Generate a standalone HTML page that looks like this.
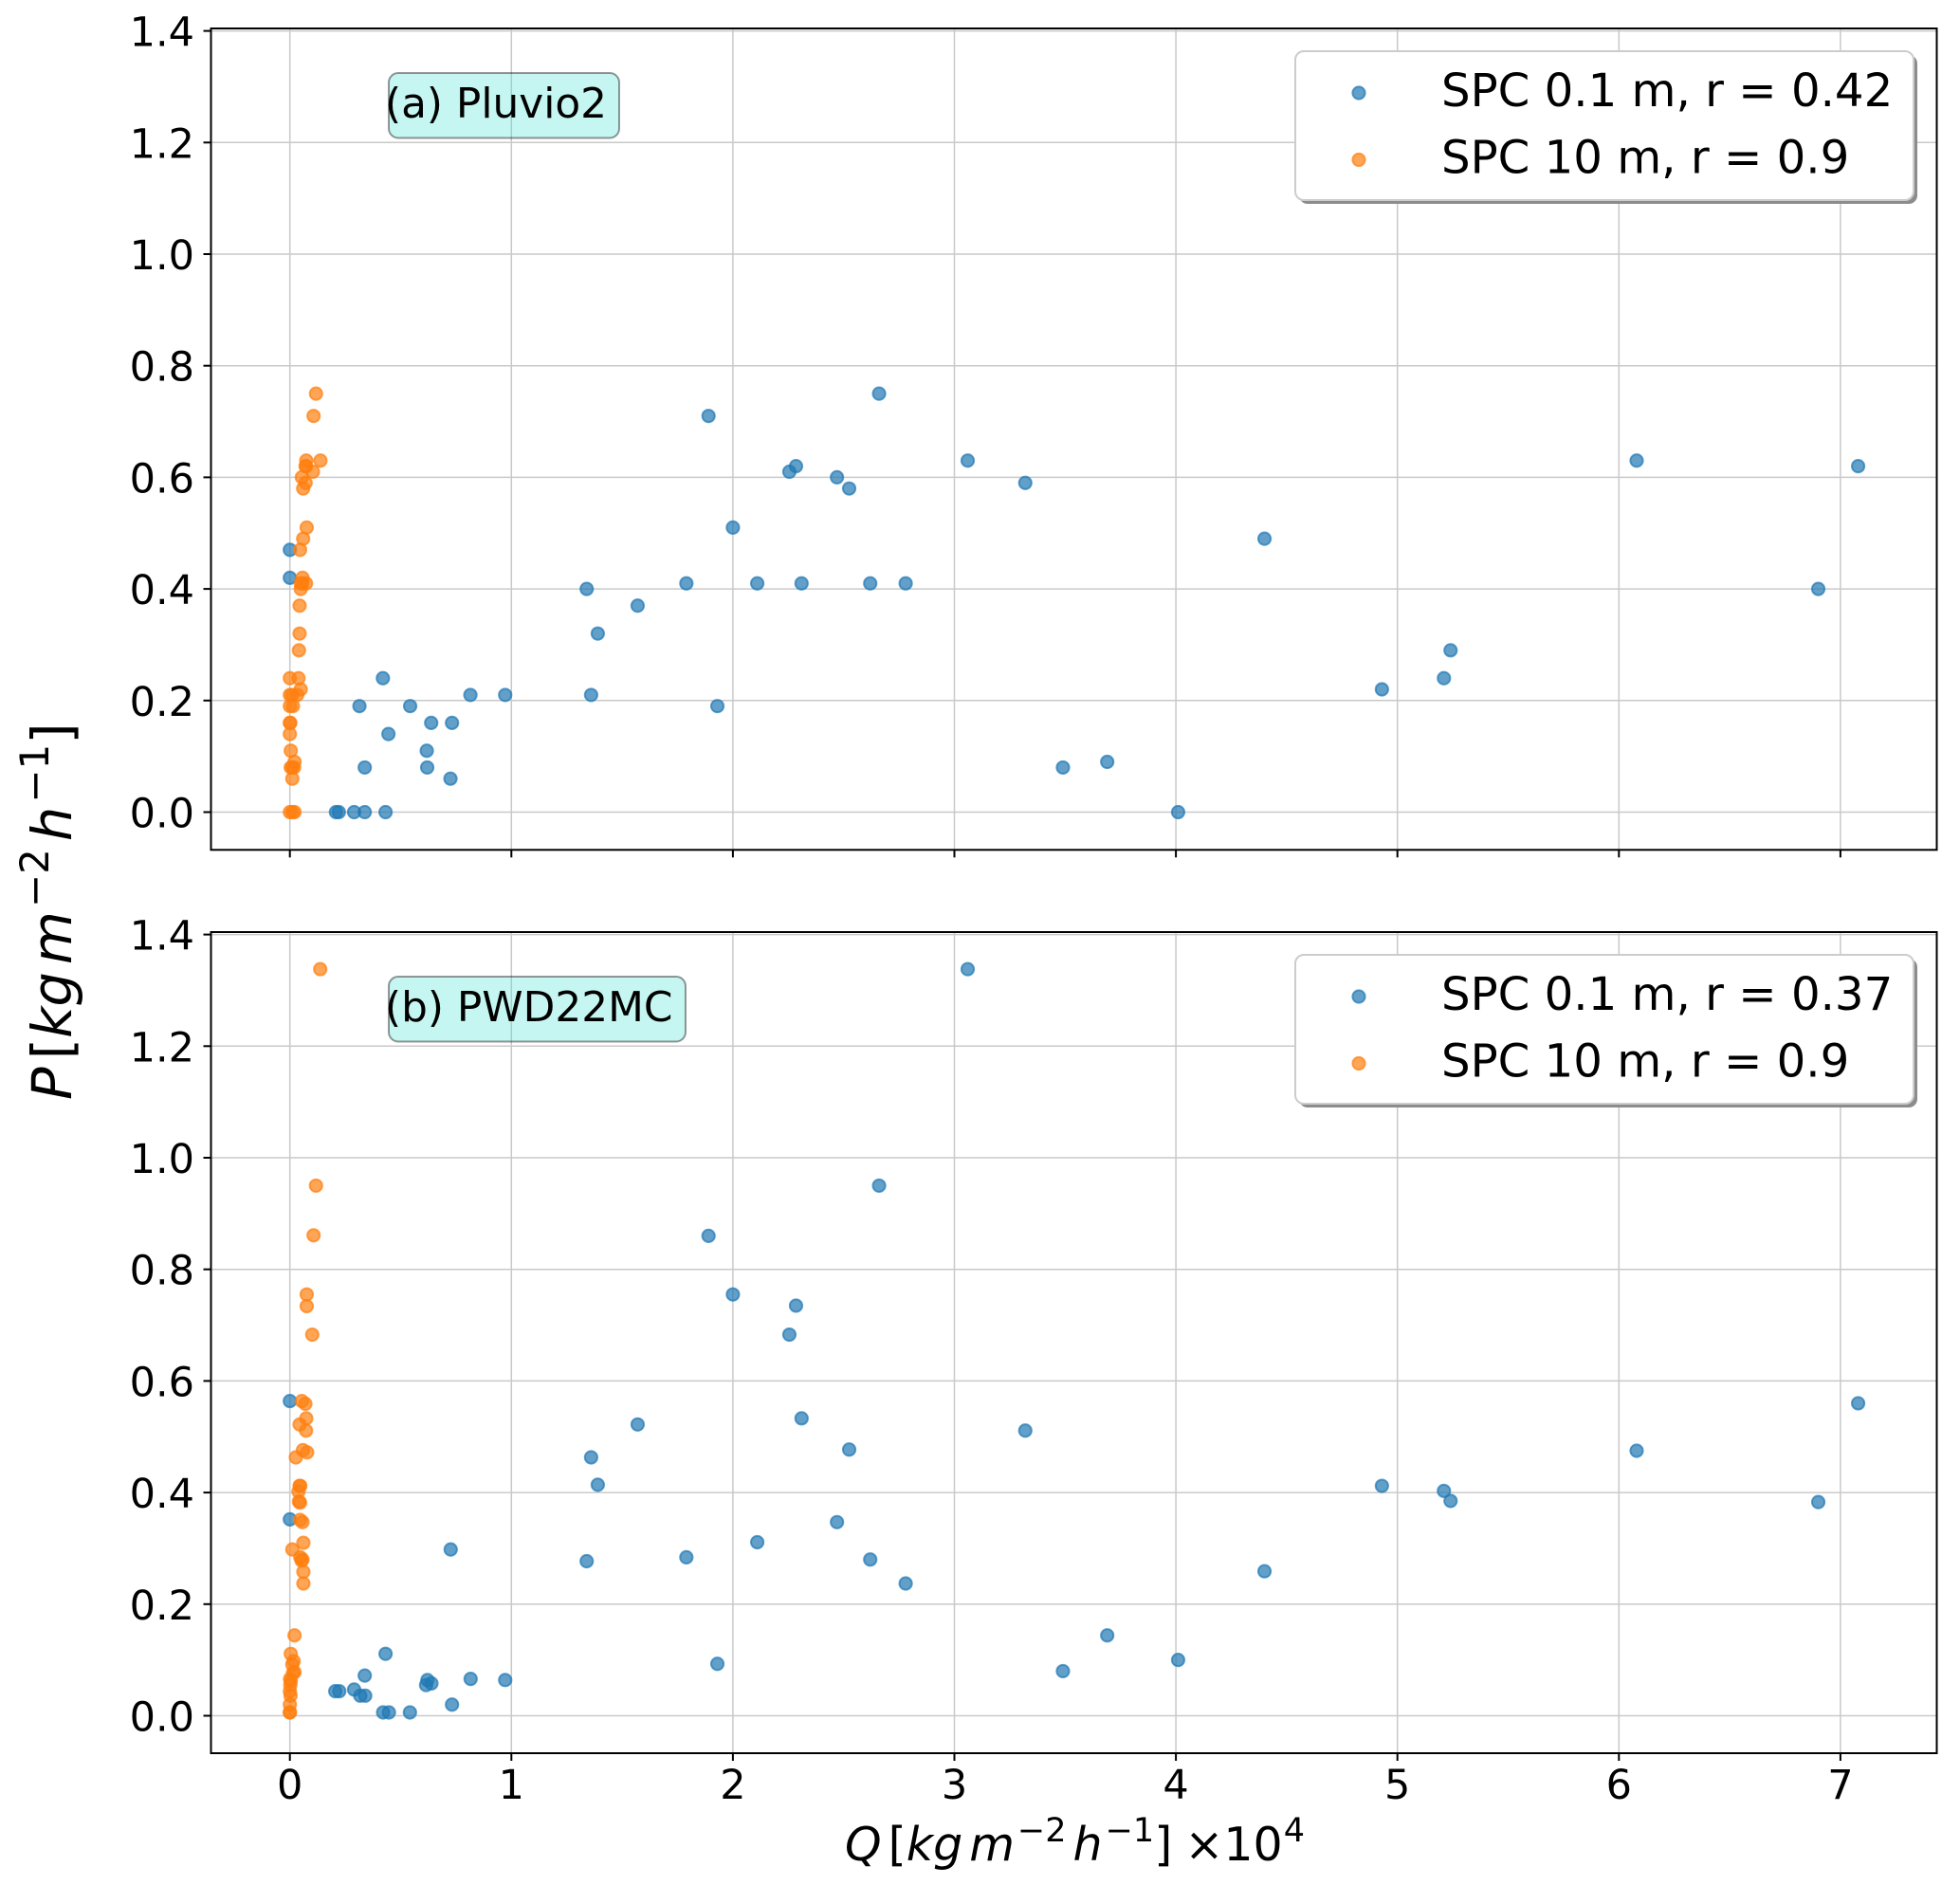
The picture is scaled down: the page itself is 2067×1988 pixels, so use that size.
<!DOCTYPE html>
<html lang="en">
<head>
<meta charset="utf-8">
<title>Precipitation vs snow particle counter flux</title>
<style>
html,body{margin:0;padding:0;background:#fff;}
svg{display:block;}
text{font-family:"DejaVu Sans","Liberation Sans",sans-serif;fill:#000;}
</style>
</head>
<body>
<svg id="chart" xmlns="http://www.w3.org/2000/svg" width="2067" height="1988" viewBox="0 0 2067 1988">
  <g id="panels"></g>
  <text transform="translate(75,1160) rotate(-90)" font-size="57.5" font-style="italic" xml:space="preserve">P<tspan dx="8" font-style="normal">[</tspan>kg<tspan dx="8">m</tspan><tspan dy="-24" font-size="42" dx="4" font-style="normal">−2</tspan><tspan dy="24" dx="8">h</tspan><tspan dy="-24" font-size="42" dx="4" font-style="normal">−1</tspan><tspan dy="24" font-style="normal">]</tspan></text>
  <text transform="translate(891,1962)" font-size="49" font-style="italic" xml:space="preserve">Q<tspan dx="7" font-style="normal">[</tspan>kg<tspan dx="7">m</tspan><tspan dy="-20" font-size="35" dx="3" font-style="normal">−2</tspan><tspan dy="20" dx="7">h</tspan><tspan dy="-20" font-size="35" dx="3" font-style="normal">−1</tspan><tspan dy="20" font-style="normal">]</tspan><tspan font-style="normal" dx="13">×10</tspan><tspan dy="-20" font-size="35" dx="1" font-style="normal">4</tspan></text>
</svg>
<script>
const xTickValues = [0, 1, 2, 3, 4, 5, 6, 7];
const xTickLabels = ['0', '1', '2', '3', '4', '5', '6', '7'];
const yTickValues = [0, 0.2, 0.4, 0.6, 0.8, 1.0, 1.2, 1.4];
const yTickLabels = ['0.0', '0.2', '0.4', '0.6', '0.8', '1.0', '1.2', '1.4'];

const pluvioBlueQ = [0,0,1.89,2.66,2.255,2.285,2.47,2.525,3.06,3.32,6.08,7.08,2.00,4.40,1.34,1.79,2.11,2.31,2.62,2.78,6.90,1.57,1.39,5.24,5.21,4.93,0.42,0.314,0.543,1.93,0.815,0.972,1.36,0.638,0.732,0.445,0.618,0.338,0.62,0.725,3.49,3.69,4.01,0.208,0.221,0.29,0.338,0.432];
const pluvioBlueP = [0.47,0.42,0.71,0.75,0.61,0.62,0.60,0.58,0.63,0.59,0.63,0.62,0.51,0.49,0.40,0.41,0.41,0.41,0.41,0.41,0.40,0.37,0.32,0.29,0.24,0.22,0.24,0.19,0.19,0.19,0.21,0.21,0.21,0.16,0.16,0.14,0.11,0.08,0.08,0.06,0.08,0.09,0,0,0,0,0,0];
const pluvioOrangeQ = [0.118,0.107,0.138,0.074,0.073,0.071,0.104,0.054,0.071,0.06,0.076,0.06,0.046,0.057,0.057,0.073,0.049,0.049,0.044,0.044,0.041,0,0.039,0.049,0.033,0,0.01,0,0.014,0,0.002,0,0.004,0.021,0.004,0.019,0.011,0.011,0,0.011,0.021];
const pluvioOrangeP = [0.75,0.71,0.63,0.63,0.62,0.62,0.61,0.60,0.59,0.58,0.51,0.49,0.47,0.42,0.41,0.41,0.41,0.40,0.37,0.32,0.29,0.24,0.24,0.22,0.21,0.21,0.21,0.19,0.19,0.16,0.16,0.14,0.11,0.09,0.08,0.08,0.08,0.06,0,0,0];

const pwdBlueQ = [0,0,1.89,2.66,2.255,2.285,2.47,2.525,3.06,3.32,6.08,7.08,2.00,4.40,1.34,1.79,2.11,2.31,2.62,2.78,6.90,1.57,1.39,5.24,5.21,4.93,0.432,0.318,0.542,1.93,0.816,0.972,1.36,0.639,0.732,0.447,0.615,0.338,0.34,0.621,0.726,3.49,3.69,4.01,0.205,0.223,0.29,0.421];
const pwdBlueP = [0.564,0.352,0.86,0.95,0.683,0.735,0.347,0.477,1.338,0.511,0.475,0.56,0.755,0.259,0.277,0.284,0.311,0.533,0.28,0.237,0.383,0.522,0.414,0.385,0.403,0.412,0.111,0.036,0.006,0.093,0.066,0.064,0.463,0.058,0.02,0.006,0.055,0.072,0.036,0.064,0.298,0.08,0.144,0.1,0.044,0.044,0.047,0.006];
const pwdOrangeQ = [0.137,0.118,0.107,0.076,0.076,0.101,0.054,0.07,0.074,0.044,0.073,0.059,0.078,0.027,0.044,0.047,0.039,0.041,0.046,0.046,0.057,0.061,0.011,0.047,0.057,0.053,0.061,0.061,0.021,0.004,0.017,0.011,0.021,0.014,0.001,0.004,0.002,0,0.003,0,0,0];
const pwdOrangeP = [1.338,0.95,0.861,0.755,0.734,0.683,0.564,0.559,0.533,0.522,0.511,0.476,0.472,0.463,0.412,0.412,0.402,0.384,0.382,0.351,0.347,0.31,0.298,0.284,0.28,0.278,0.258,0.237,0.144,0.111,0.098,0.092,0.078,0.077,0.066,0.062,0.055,0.044,0.036,0.02,0.006,0.006];

const pluvioLegendLabels = ['SPC 0.1 m, r = 0.42', 'SPC 10 m, r = 0.9'];
const pwdLegendLabels = ['SPC 0.1 m, r = 0.37', 'SPC 10 m, r = 0.9'];

const SVGNS = 'http://www.w3.org/2000/svg';
const root = document.getElementById('panels');
const plotLeft = 222.5, plotRight = 2042.5;
const BLUE = '#1f77b4', ORANGE = '#ff7f0e';

function xScale(v) { return 305.7 + 233.6 * v; }
function yScale(zero, v) { return zero - 588.5 * v; }

function make(tag, attrs, parent) {
  const el = document.createElementNS(SVGNS, tag);
  for (const k in attrs) el.setAttribute(k, attrs[k]);
  parent.appendChild(el);
  return el;
}

function drawGrid(group, panel) {
  xTickValues.forEach(function (v) {
    const line = make('line', {x1: xScale(v), x2: xScale(v), y1: panel.top, y2: panel.bottom, stroke: '#c9c9c9', 'stroke-width': 1.5}, group);
    
    
  });
  yTickValues.forEach(function (v) {
    const line = make('line', {x1: plotLeft, x2: plotRight, y1: yScale(panel.zero, v), y2: yScale(panel.zero, v), stroke: '#c9c9c9', 'stroke-width': 1.5}, group);
    
    
  });
}

function drawPoints(group, qs, ps, color, zero, name) {
  qs.forEach(function (q, i) {
    const dot = make('circle', {cx: xScale(q), cy: yScale(zero, ps[i]), r: 6.6, fill: color, 'fill-opacity': 0.7, stroke: color, 'stroke-opacity': 0.7, 'stroke-width': 2}, group);
    
    
  });
}

function drawAxes(group, panel) {
  const frame = make('rect', {x: plotLeft, y: panel.top, width: plotRight - plotLeft, height: panel.bottom - panel.top, fill: 'none', stroke: '#000', 'stroke-width': 2}, group);
  
  
  xTickValues.forEach(function (v, i) {
    const tick = make('line', {x1: xScale(v), x2: xScale(v), y1: panel.bottom, y2: panel.bottom + 8, stroke: '#000', 'stroke-width': 2}, group);
    
    
    if (panel.showXLabels) {
      const label = make('text', {x: xScale(v), y: panel.bottom + 48, 'font-size': 43, 'text-anchor': 'middle'}, group);
      label.textContent = xTickLabels[i];
      
      
    }
  });
  yTickValues.forEach(function (v, i) {
    const y = yScale(panel.zero, v);
    const tick = make('line', {x1: plotLeft - 8, x2: plotLeft, y1: y, y2: y, stroke: '#000', 'stroke-width': 2}, group);
    
    
    const label = make('text', {x: 205, y: y + 16, 'font-size': 43, 'text-anchor': 'end'}, group);
    label.textContent = yTickLabels[i];
    
    
  });
}

function drawBadge(group, panel) {
  const y = panel.top + 47;
  const box = make('rect', {x: 410, y: y, width: panel.badgeWidth, height: 68.5, rx: 10, ry: 10, fill: '#40e0d0', 'fill-opacity': 0.3, stroke: '#000', 'stroke-opacity': 0.4, 'stroke-width': 2}, group);
  
  
  const text = make('text', {x: 406, y: panel.top + 94, 'font-size': 43.8}, group);
  text.textContent = panel.badge;
  
  
}

function drawLegend(group, panel) {
  const top = panel.top + 24;
  const legend = make('g', {}, group);
  
  
  const shadow = make('rect', {x: 1370, y: top + 4, width: 652, height: 157, rx: 9, ry: 9, fill: '#8c8c8c'}, legend);
  
  
  const box = make('rect', {x: 1366, y: top, width: 652, height: 157, rx: 9, ry: 9, fill: '#fff', stroke: '#cccccc', 'stroke-width': 2}, legend);
  
  
  const colors = [BLUE, ORANGE];
  const rowY = [top + 44, top + 114.5];
  panel.legend.forEach(function (t, i) {
    const dot = make('circle', {cx: 1433, cy: rowY[i], r: 6.6, fill: colors[i], 'fill-opacity': 0.7, stroke: colors[i], 'stroke-opacity': 0.7, 'stroke-width': 2}, legend);
    
    
    const text = make('text', {x: 1520, y: rowY[i] + 14, 'font-size': 48.2}, legend);
    text.textContent = t;
    
    
  });
}

function drawPanel(panel) {
  const group = make('g', {}, root);
  
  
  drawGrid(group, panel);
  drawPoints(group, panel.blueQ, panel.blueP, BLUE, panel.zero, 'point-spc-0-1m');
  drawPoints(group, panel.orangeQ, panel.orangeP, ORANGE, panel.zero, 'point-spc-10m');
  drawAxes(group, panel);
  drawBadge(group, panel);
  drawLegend(group, panel);
}

drawPanel({name: 'panel-a-pluvio2', top: 30, bottom: 896.3, zero: 856.5, showXLabels: false, badge: '(a) Pluvio2', badgeWidth: 243, legend: pluvioLegendLabels, blueQ: pluvioBlueQ, blueP: pluvioBlueP, orangeQ: pluvioOrangeQ, orangeP: pluvioOrangeP});
drawPanel({name: 'panel-b-pwd22mc', top: 983, bottom: 1849, zero: 1809.5, showXLabels: true, badge: '(b) PWD22MC', badgeWidth: 313, legend: pwdLegendLabels, blueQ: pwdBlueQ, blueP: pwdBlueP, orangeQ: pwdOrangeQ, orangeP: pwdOrangeP});
</script>
</body>
</html>
